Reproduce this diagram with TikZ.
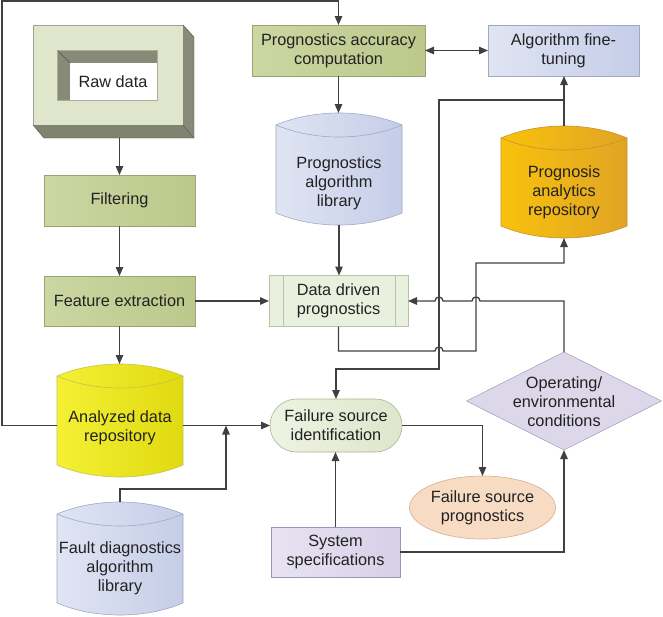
\documentclass[tikz,border=0pt]{standalone}
\usepackage{fontspec}
\setmainfont{Liberation Sans}
\usetikzlibrary{arrows.meta,calc,shapes.geometric,backgrounds}
\definecolor{lc}{HTML}{404040}
\definecolor{grnA}{HTML}{CCD6A2}
\definecolor{grnB}{HTML}{BCC88B}
\definecolor{grnL}{HTML}{98A476}
\definecolor{bluA}{HTML}{E0E5F4}
\definecolor{bluB}{HTML}{C5CDE7}
\definecolor{bluL}{HTML}{A0A8C4}
\definecolor{yelA}{HTML}{F4F034}
\definecolor{yelB}{HTML}{E0DA10}
\definecolor{yelL}{HTML}{C8C050}
\definecolor{orA}{HTML}{F9C20C}
\definecolor{orB}{HTML}{E0A424}
\definecolor{orL}{HTML}{C89030}
\definecolor{ddF}{HTML}{EAF0DE}
\definecolor{ddL}{HTML}{B8C2A4}
\definecolor{fsiA}{HTML}{EEF3E2}
\definecolor{fsiB}{HTML}{DEE6CC}
\definecolor{fsiL}{HTML}{AAB596}
\definecolor{fspF}{HTML}{F8DBC3}
\definecolor{fspL}{HTML}{D4AE92}
\definecolor{sysA}{HTML}{E8E4F2}
\definecolor{sysB}{HTML}{D6D0E8}
\definecolor{sysL}{HTML}{9C96B4}
\definecolor{diaF}{HTML}{DDD7EA}
\definecolor{diaL}{HTML}{ABA4C4}
\definecolor{rawF}{HTML}{DFE6CB}
\definecolor{rawS}{HTML}{878A76}
\definecolor{txt}{HTML}{222222}

\newcommand\drumshape[4]{%
 \begin{pgfonlayer}{background}
 \path[left color=#2,right color=#3,draw=#4,line width=0.6pt]
   ($(#1.north west)+(0,12)$) .. controls ($(#1.north west)!0.3!(#1.north east)+(0,-4)$) and ($(#1.north west)!0.7!(#1.north east)+(0,-4)$) .. ($(#1.north east)+(0,12)$)
   -- ($(#1.south east)+(0,-12)$) .. controls ($(#1.south west)!0.7!(#1.south east)+(0,4)$) and ($(#1.south west)!0.3!(#1.south east)+(0,4)$) .. ($(#1.south west)+(0,-12)$) -- cycle;
 \draw[#4,line width=0.6pt] ($(#1.north west)+(0,12)$) .. controls ($(#1.north west)!0.3!(#1.north east)+(0,28)$) and ($(#1.north west)!0.7!(#1.north east)+(0,28)$) .. ($(#1.north east)+(0,12)$);
 \end{pgfonlayer}}

\begin{document}
\begin{tikzpicture}[x=1pt,y=-1pt,
  every node/.style={font=\fontsize{16.3}{19}\selectfont, align=center, inner sep=0pt, outer sep=0pt, text=txt},
  ln/.style={draw=lc, line width=1.3pt},
  arr/.style={ln, -{Triangle[length=9pt,width=7.5pt]}},
  darr/.style={ln, {Triangle[length=9pt,width=7.5pt]}-{Triangle[length=9pt,width=7.5pt]}},
  gbox/.style={rectangle, left color=grnA, right color=grnB, draw=grnL, line width=0.6pt},
  bbox/.style={rectangle, left color=bluA, right color=bluB, draw=bluL, line width=0.6pt},
  drum/.style={rectangle, minimum width=126, minimum height=#1},
]
\useasboundingbox (0,0) rectangle (663,616);

% raw data 3D box
\node[rectangle, minimum width=150, minimum height=100, fill=rawF, draw=rawS!80, line width=0.6pt] (raw) at (108,75) {};
\fill[rawS] (raw.north east) -- ++(11,12) -- ++(0,101) -- (raw.south east) -- cycle;
\fill[rawS!95!black] (raw.south west) -- ++(11,13) -- ++(150,0) -- (raw.south east) -- cycle;
\draw[rawS!60!black, line width=0.4pt] (raw.north east) -- ++(11,12) -- ++(0,101) -- ++(-150,0) -- (raw.south west);
\draw[rawS!60!black, line width=0.4pt] (raw.south east) -- ++(11,13);
\fill[rawS] (57,50) rectangle (157,100);
\fill[white] (70,63) rectangle (157,100);
\draw[rawS!60!black, line width=0.4pt] (57,50) -- (70,63);
\draw[rawS!70, line width=0.6pt] (57,50) rectangle (157,100);
\node (rawtxt) at (113,82) {Raw data};

% boxes
\node[gbox, minimum width=173, minimum height=51] (pac) at (338.5,50.5) {Prognostics accuracy\\computation};
\node[bbox, minimum width=151, minimum height=51] (alg) at (563.5,50.5) {Algorithm fine-\\tuning};
\node[gbox, minimum width=151, minimum height=51] (filt) at (119.5,200.5) {Filtering};
\node[gbox, minimum width=151, minimum height=50] (feat) at (119.5,301) {Feature extraction};
\node[rectangle, minimum width=139, minimum height=51, fill=ddF, draw=ddL, line width=0.6pt] (dd) at (338.5,301) {Data driven\\prognostics};
\draw[ddL, line width=0.6pt] ([xshift=14]dd.north west) -- ([xshift=14]dd.south west);
\draw[ddL, line width=0.6pt] ([xshift=-13]dd.north east) -- ([xshift=-13]dd.south east);
\node[rectangle, rounded corners=26.5, minimum width=132, minimum height=53, left color=fsiA, right color=fsiB, draw=fsiL, line width=0.6pt] (fsi) at (336,425.5) {Failure source\\identification};
\node[ellipse, minimum width=139, minimum height=63, fill=fspF, draw=fspL, line width=0.6pt] (fsp) at (482.5,507.5) {Failure source\\prognostics};
\node[rectangle, minimum width=129, minimum height=50, left color=sysA, right color=sysB, draw=sysL, line width=0.6pt] (sys) at (335.5,552) {System\\specifications};
\node[diamond, minimum width=195, minimum height=98, fill=diaF, draw=diaL, line width=0.6pt] (dia) at (564,401) {};
\node (diatxt) at (564,402) {Operating/\\environmental\\conditions};

% cylinders
\node[drum=112] (pal) at (339,169) {};
\drumshape{pal}{bluA}{bluB}{bluL}
\node (paltxt) at (339,183) {Prognostics\\algorithm\\library};
\node[drum=112] (pr) at (564,182) {};
\drumshape{pr}{orA}{orB}{orL}
\node (prtxt) at (564,192) {Prognosis\\analytics\\repository};
\node[drum=113] (adr) at (120,420.5) {};
\drumshape{adr}{yelA}{yelB}{yelL}
\node (adrtxt) at (120,427.5) {Analyzed data\\repository};
\node[drum=113] (fd) at (120,558.5) {};
\drumshape{fd}{bluA}{bluB}{bluL}
\node (fdtxt) at (120,568) {Fault diagnostics\\algorithm\\library};

% junctions
\coordinate (j1) at (564,100);
\coordinate (j2) at (226,425.5);

% connectors
\draw[arr] ($(raw.south -| filt.north)+(0,13)$) -- (filt.north);
\draw[arr] (filt.south) -- (feat.north);
\draw[arr] (feat.south) -- (feat.south |- adr.north);
\draw[arr] (feat.east) -- (dd.west);
\draw[arr] (adr.east |- fsi.west) -- (fsi.west);
\draw[arr] (fd.north) -- ++(0,-13) -| (j2);
\draw[arr] (adr.west |- fsi.west) -| (2,1) -| (pac.north);
\draw[darr] (pac.east) -- (alg.west);
\draw[arr] (pac.south) -- (pac.south |- pal.north);
\draw[arr] (pal.south) -- (pal.south |- dd.north);
\draw[arr] (pr.north) -- (pr.north |- alg.south);
\draw[arr] (j1) -| (439,369) -| (fsi.north);
\draw[arr] (dd.south) |- (435,351) .. controls (435,345.7) and (443,345.7) .. (443,351) -- (476,351) -- (476,263) -| (pr.south);
\draw[arr] (dia.north) |- (480,301) .. controls (480,295.7) and (472,295.7) .. (472,301) -- (443,301) .. controls (443,295.7) and (435,295.7) .. (435,301) -- (dd.east);
\draw[arr] (fsi.east) -| (fsp.north);
\draw[arr] (sys.north) -- (sys.north |- fsi.south);
\draw[arr] (sys.east) -| (dia.south);
\end{tikzpicture}
\end{document}
